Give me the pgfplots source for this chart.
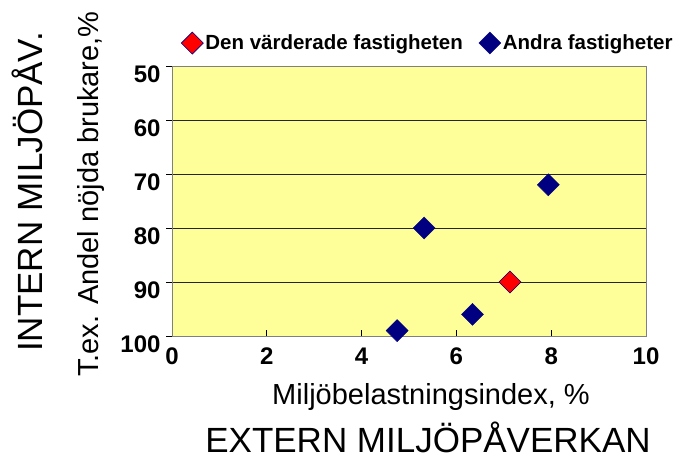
\documentclass[border=0pt]{standalone}
\usepackage{pgfplots}
\pgfplotsset{compat=1.18}
\usepackage{fontspec}
\setmainfont{Liberation Sans}
\definecolor{plotyellow}{HTML}{FFFF99}
\definecolor{navyb}{HTML}{000080}
\begin{document}
\begin{tikzpicture}[x=1pt,y=1pt]
\path[use as bounding box] (0,0) rectangle (690,460);
\begin{axis}[
  at={(172pt,124pt)}, anchor=south west,
  scale only axis, width=474pt, height=270pt,
  xmin=0, xmax=10, ymin=50, ymax=100, y dir=reverse,
  xtick={0,2,4,6,8,10}, ytick={50,60,70,80,90,100},
  axis background/.style={fill=plotyellow},
  axis line style={draw=gray, line width=0.8pt},
  ymajorgrids, grid style={draw=black!85, line width=0.9pt},
  xtick pos=left, ytick pos=left,
  xtick align=inside, ytick align=outside,
  major tick length=6pt,
  tick style={black, line width=0.7pt},
  /pgf/number format/assume math mode=true,
  ticklabel style={font=\fontsize{24}{24}\selectfont\bfseries},
  yticklabel style={yshift=-8pt, xshift=-2pt},
  xticklabel style={yshift=-8pt},
  legend columns=2,
  legend image code/.code={\draw[#1, mark repeat=2, mark phase=2] plot coordinates {(0pt,0pt) (12pt,0pt) (24pt,0pt)};},
  legend style={at={(0.54,1.085)}, anchor=center, draw=none, fill=none,
    font=\fontsize{20.5}{20.5}\selectfont\bfseries,
    /tikz/every even column/.append style={column sep=14pt}},
  clip=false,
]
\addplot[only marks, mark=square*, mark size=7.8pt,
  mark options={rotate=45, fill=red, draw=navyb, line width=0.6pt}]
  coordinates {(7.13,90)};
\addlegendentry{Den värderade fastigheten}
\addplot[only marks, mark=square*, mark size=7.8pt,
  mark options={rotate=45, fill=navyb, draw=navyb}]
  coordinates {(7.94,72) (5.32,80) (6.34,96) (4.75,99)};
\addlegendentry{Andra fastigheter}
\end{axis}
\node[rotate=90, anchor=base west, inner sep=0pt, font=\fontsize{35}{35}\selectfont] at (43,108) {INTERN MILJÖPÅV.};
\node[rotate=90, anchor=base west, inner sep=0pt, font=\fontsize{29}{29}\selectfont] at (98,83) {T.ex. Andel nöjda brukare,\%};
\node[anchor=base, inner sep=0pt, font=\fontsize{29}{29}\selectfont] at (431,55) {Miljöbelastningsindex, \%};
\node[anchor=base, inner sep=0pt, font=\fontsize{35}{35}\selectfont] at (428,7) {EXTERN MILJÖPÅVERKAN};
\end{tikzpicture}
\end{document}
